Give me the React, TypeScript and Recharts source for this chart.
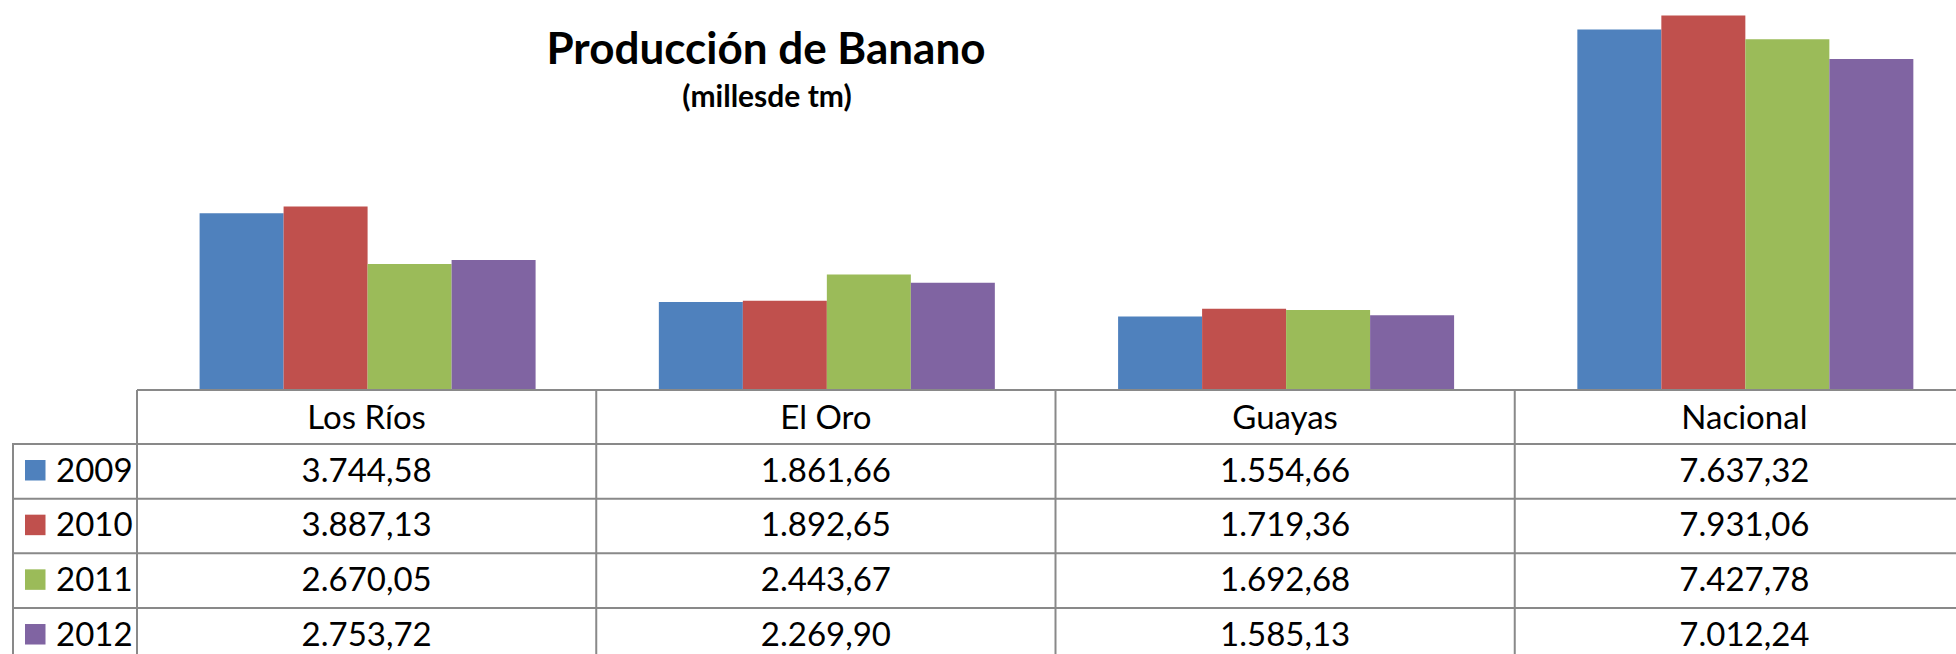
import React from 'react';
import { BarChart, Bar, XAxis, YAxis, Legend } from 'recharts';

const CATEGORIES = ['Los Ríos', 'El Oro', 'Guayas', 'Nacional'];
const YEARS = ['2009', '2010', '2011', '2012'];
const VALUES_2009 = [3744.58, 1861.66, 1554.66, 7637.32];
const VALUES_2010 = [3887.13, 1892.65, 1719.36, 7931.06];
const VALUES_2011 = [2670.05, 2443.67, 1692.68, 7427.78];
const VALUES_2012 = [2753.72, 2269.9, 1585.13, 7012.24];

const colors: Record<string, string> = {
  '2009': '#4F81BD',
  '2010': '#C0504D',
  '2011': '#9BBB59',
  '2012': '#8064A2',
};

const seriesValues = [VALUES_2009, VALUES_2010, VALUES_2011, VALUES_2012];

const data = CATEGORIES.map((name, i) => {
  const row: Record<string, string | number> = { name };
  YEARS.forEach((y, s) => {
    row[y] = seriesValues[s][i];
  });
  return row;
});

// 1234.5 -> "1.234,50"
const fmt = (v: number) => {
  const [int, dec] = v.toFixed(2).split('.');
  return int.replace(/\B(?=(\d{3})+(?!\d))/g, '.') + ',' + dec;
};

const FONT = 'Lato, "Noto Sans", sans-serif';
const LINE = '#898989';
const CHART_W = 1974;
const LEFT = 137;
const AXIS_H = 264;
const BAND = (CHART_W - LEFT) / CATEGORIES.length;
const HEADER_H = 54;
const ROW_H = 54.67;

function TableColumn(props: any) {
  const { x, y, payload, index } = props;
  const left = x - BAND / 2;
  const right = x + BAND / 2;
  const row = data[index];
  return (
    <g>
      {index === 0 && <line x1={left} x2={left} y1={y} y2={y + AXIS_H} stroke={LINE} strokeWidth={2} />}
      <line x1={right} x2={right} y1={y} y2={y + AXIS_H} stroke={LINE} strokeWidth={2} />
      {YEARS.map((_, i) => (
        <line
          key={i}
          x1={left}
          x2={right}
          y1={y + HEADER_H + i * ROW_H}
          y2={y + HEADER_H + i * ROW_H}
          stroke={LINE}
          strokeWidth={2}
        />
      ))}
      <text x={x} y={y + 39} textAnchor="middle" fontFamily={FONT} fontSize={33} fill="#000">
        {payload.value}
      </text>
      {YEARS.map((yr, i) => (
        <text
          key={yr}
          x={x}
          y={y + HEADER_H + i * ROW_H + 37.7}
          textAnchor="middle"
          fontFamily={FONT}
          fontSize={33}
          fill="#000"
        >
          {fmt(row[yr] as number)}
        </text>
      ))}
    </g>
  );
}

function LegendColumn(props: any) {
  const { payload } = props;
  return (
    <svg width={LEFT} height={230} style={{ display: 'block' }}>
      <line x1={13} x2={13} y1={0} y2={230} stroke={LINE} strokeWidth={2} />
      {payload.map((entry: any, i: number) => (
        <g key={entry.value}>
          <line x1={13} x2={LEFT} y1={1 + i * ROW_H} y2={1 + i * ROW_H} stroke={LINE} strokeWidth={2} />
          <rect x={25} y={1 + i * ROW_H + 16} width={20.5} height={20.5} fill={entry.color} />
          <text x={56} y={1 + i * ROW_H + 37.7} fontFamily={FONT} fontSize={33} fill="#000">
            {entry.value}
          </text>
        </g>
      ))}
    </svg>
  );
}

export default function App() {
  return (
    <div style={{ position: 'relative', width: 1956, height: 654, overflow: 'hidden', background: '#fff' }}>
      <style>{'body{margin:0}'}</style>
      <BarChart
        width={CHART_W}
        height={654}
        data={data}
        margin={{ top: 0, right: 0, bottom: 0, left: LEFT }}
        barGap={0}
        barCategoryGap="13.63%"
      >
        <XAxis
          dataKey="name"
          height={AXIS_H}
          interval={0}
          tickLine={false}
          tickSize={0}
          tickMargin={0}
          axisLine={{ stroke: LINE, strokeWidth: 2 }}
          tick={<TableColumn />}
        />
        <YAxis hide domain={[0, 8260]} allowDataOverflow />
        <Legend
          layout="vertical"
          align="center"
          verticalAlign="middle"
          content={<LegendColumn />}
          wrapperStyle={{ left: 0, top: 443, width: LEFT, height: 230 }}
        />
        {YEARS.map((yr) => (
          <Bar key={yr} dataKey={yr} name={yr} fill={colors[yr]} isAnimationActive={false} />
        ))}
      </BarChart>
      <svg
        width={1956}
        height={130}
        style={{ position: 'absolute', left: 0, top: 0, pointerEvents: 'none' }}
      >
        <text x={766} y={63.5} textAnchor="middle" fontFamily={FONT} fontWeight={700} fontSize={44} fill="#000">
          Producción de Banano
        </text>
        <text x={767} y={107} textAnchor="middle" fontFamily={FONT} fontWeight={700} fontSize={30} fill="#000">
          (millesde tm)
        </text>
      </svg>
    </div>
  );
}
